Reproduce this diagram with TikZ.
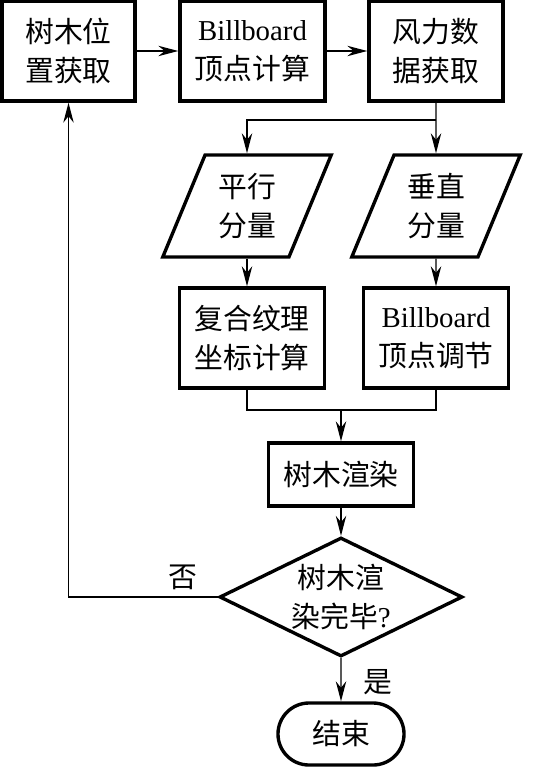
\documentclass[tikz,border=0pt]{standalone}
\usepackage{fontspec}
\setmainfont{Liberation Serif}
\newfontfamily\cjk{Noto Sans CJK SC}
\usetikzlibrary{arrows.meta, shapes.geometric, shapes.misc}
\newcommand{\flowfont}{\fontsize{20.5}{27.5}\selectfont\cjk}
\tikzset{box/.style={draw, line width=2.4pt, minimum width=3.625cm, minimum height=2.5cm, inner sep=0pt, align=center, font=\flowfont}}
\tikzset{slant/.style={draw, trapezium, trapezium left angle=66, trapezium right angle=114, trapezium stretches, line width=2.4pt, minimum width=4.225cm, minimum height=2.55cm, inner sep=0pt, align=center, font=\flowfont}}
\tikzset{decide/.style={draw, diamond, aspect=2, line width=2.4pt, minimum width=6.075cm, minimum height=2.975cm, inner sep=0pt, align=center, font=\flowfont}}
\tikzset{stop/.style={draw, rounded rectangle, line width=2.4pt, minimum width=3.15cm, minimum height=1.55cm, inner sep=0pt, font=\flowfont}}
\tikzset{link/.style={line width=1pt}}
\tikzset{flow/.style={link, -{Stealth[length=0.5cm, width=0.26cm]}}}

\begin{document}
\begin{tikzpicture}[x=0.025cm, y=-0.025cm]
    \useasboundingbox (0,0) rectangle (549,767);
    % top row
    \node[box, minimum width=3.325cm] (pos) at (68.5,51) {树木位\\置获取};
    \node[box] (bbcalc) at (252.5,51) {\rmfamily Billboard\\顶点计算};
    \node[box, minimum width=3.35cm] (wind) at (436,51) {风力数\\据获取};
    % wind components
    \node[slant] (para) at (247,206) {平行\\分量};
    \node[slant] (perp) at (436,206) {垂直\\分量};
    \node[box] (tex) at (252,338) {复合纹理\\坐标计算};
    \node[box] (bbadj) at (436,338) {\rmfamily Billboard\\顶点调节};
    % rendering loop
    \node[box, minimum height=1.575cm] (render) at (341,474.5) {树木渲染};
    \node[decide] (done) at (341,597) {树木渲\\染完毕{\rmfamily ?}};
    \node[stop] (end) at (341,734) {结束};
    \node[font=\flowfont] (no) at (183,577) {否};
    \node[font=\flowfont] (yes) at (378,682) {是};
    \coordinate (split) at (436,120);
    \coordinate (join) at (341,410);

    \draw[flow] (pos) -- (bbcalc);
    \draw[flow] (bbcalc) -- (wind);
    \draw[flow] (wind.south) -- (perp.north);
    \draw[flow] (split) -| (para.north);
    \draw[flow] (para.south) -- (para.south |- tex.north);
    \draw[flow] (perp.south) -- (bbadj.north);
    \draw[link] (para.south |- tex.south) |- (join) -| (bbadj.south);
    \draw[flow] (join) -- (render);
    \draw[flow] (render) -- (done);
    \draw[flow] (done) -- (end);
    \draw[flow] (done.west) -| (pos.south);
\end{tikzpicture}
\end{document}
